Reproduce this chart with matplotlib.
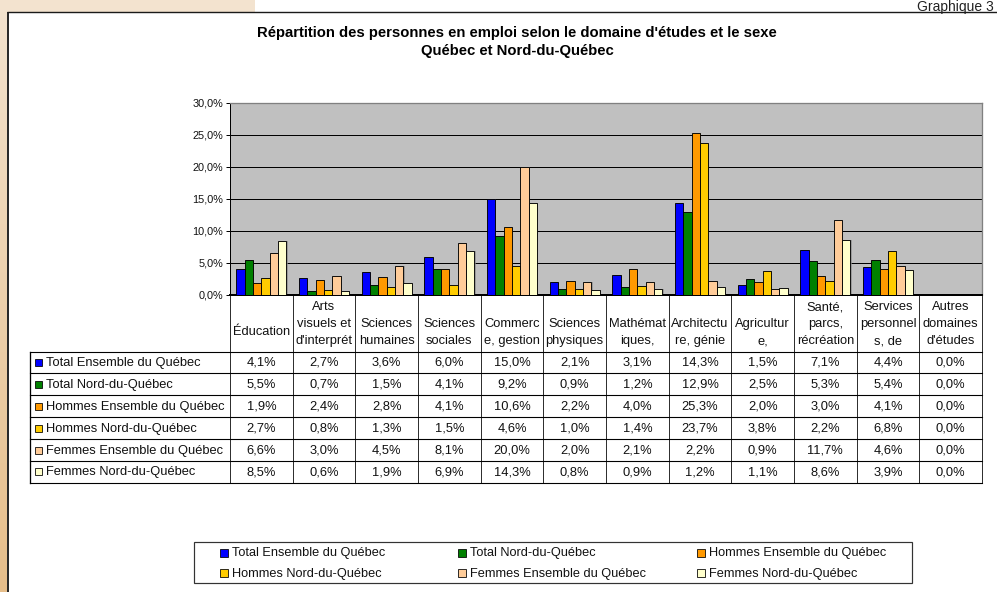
import matplotlib
matplotlib.use('Agg')
import matplotlib.pyplot as plt
import numpy as np
from matplotlib.patches import Rectangle

plt.rcParams['font.family'] = ['Liberation Sans', 'DejaVu Sans']

# ---------------- data ----------------
categories = ["Éducation", "Arts\nvisuels et\nd'interprét", "Sciences\nhumaines",
              "Sciences\nsociales", "Commerc\ne, gestion", "Sciences\nphysiques",
              "Mathémat\niques,", "Architectu\nre, génie", "Agricultur\ne,",
              "Santé,\nparcs,\nrécréation", "Services\npersonnel\ns, de",
              "Autres\ndomaines\nd'études"]
series_names = ["Total Ensemble du Québec", "Total Nord-du-Québec",
                "Hommes Ensemble du Québec", "Hommes Nord-du-Québec",
                "Femmes Ensemble du Québec", "Femmes Nord-du-Québec"]
series_colors = ["#0000FF", "#008000", "#FF9900", "#FFCC00", "#FFCC99", "#FFFFCC"]
total_quebec = [4.1, 2.7, 3.6, 6.0, 15.0, 2.1, 3.1, 14.3, 1.5, 7.1, 4.4, 0.0]
total_nord = [5.5, 0.7, 1.5, 4.1, 9.2, 0.9, 1.2, 12.9, 2.5, 5.3, 5.4, 0.0]
hommes_quebec = [1.9, 2.4, 2.8, 4.1, 10.6, 2.2, 4.0, 25.3, 2.0, 3.0, 4.1, 0.0]
hommes_nord = [2.7, 0.8, 1.3, 1.5, 4.6, 1.0, 1.4, 23.7, 3.8, 2.2, 6.8, 0.0]
femmes_quebec = [6.6, 3.0, 4.5, 8.1, 20.0, 2.0, 2.1, 2.2, 0.9, 11.7, 4.6, 0.0]
femmes_nord = [8.5, 0.6, 1.9, 6.9, 14.3, 0.8, 0.9, 1.2, 1.1, 8.6, 3.9, 0.0]
series_values = [total_quebec, total_nord, hommes_quebec, hommes_nord,
                 femmes_quebec, femmes_nord]
yticks = [0, 5, 10, 15, 20, 25, 30]
title = ("Répartition des personnes en emploi selon le domaine d'études et le sexe\n"
         "Québec et Nord-du-Québec")
corner_label = "Graphique 3"


def pct(v):
    return f"{v:.1f}%".replace('.', ',')


# ---------------- layout (pixels) ----------------
W, H = 997, 592
PX = 0.72  # points per pixel at dpi 100
plot_l, plot_r, plot_t, plot_b = 230, 982, 103, 295
n_cat = len(categories)
col_w = (plot_r - plot_l) / n_cat
table_l = 30
header_bot = 351.5
row_h = 21.9

fig = plt.figure(figsize=(W / 100, H / 100), dpi=100)
fig.patch.set_facecolor('white')

bg = fig.add_axes([0, 0, 1, 1], zorder=0)
bg.set_xlim(0, W)
bg.set_ylim(H, 0)
bg.axis('off')

# beige decorations
grad = np.linspace(0, 1, 256)[:, None, None]
c_top = np.array([0xF3, 0xE3, 0xCF]) / 255
c_bot = np.array([0xE6, 0xBE, 0x8A]) / 255
img = c_top * (1 - grad) + c_bot * grad
bg.imshow(img, extent=(0, 7.5, H, 0), aspect='auto', origin='upper', zorder=0)
bg.add_patch(Rectangle((0, 0), 255, 12, facecolor='#F3E3CF', edgecolor='none', zorder=0))
bg.set_xlim(0, W)
bg.set_ylim(H, 0)
bg.plot([8, 8], [12, H], color='#2a2a2a', lw=2 * PX, zorder=2, solid_capstyle='butt')
bg.plot([7, W], [12.2, 12.2], color='#1a1a1a', lw=1.4 * PX, zorder=2, solid_capstyle='butt')
bg.text(994, 10.5, corner_label, fontsize=10.0, color='#222222', ha='right', va='baseline')

# title
t1, t2 = title.split('\n')
bg.text(517, 37, t1, fontsize=10.7, fontweight='bold', ha='center', va='baseline')
bg.text(517, 55.5, t2, fontsize=10.7, fontweight='bold', ha='center', va='baseline')

# ---------------- bar chart ----------------
ax = fig.add_axes([plot_l / W, 1 - plot_b / H, (plot_r - plot_l) / W, (plot_b - plot_t) / H],
                  zorder=1)
ax.set_facecolor('#C0C0C0')
n_ser = len(series_values)
group_w = 0.8
bar_w = group_w / n_ser
x0 = np.arange(n_cat)
for j, (vals, col) in enumerate(zip(series_values, series_colors)):
    xs = x0 + (1 - group_w) / 2 + (j + 0.5) * bar_w
    ax.bar(xs + 0.018, vals, width=bar_w, color='#8a8a8a', edgecolor='none', zorder=2,
           alpha=0.7)
    ax.bar(xs, vals, width=bar_w, color=col, edgecolor='black', linewidth=0.9 * PX, zorder=3)
ax.set_xlim(0, n_cat)
ax.set_ylim(yticks[0], yticks[-1])
ax.set_yticks(yticks)
ax.set_yticklabels([pct(v) for v in yticks], fontsize=7.8, color='#111111')
ax.tick_params(axis='y', length=4 * PX, width=1 * PX, pad=3 * PX, direction='out')
ax.set_xticks([])
for v in yticks[1:-1]:
    ax.axhline(v, color='black', lw=1 * PX, zorder=1)
for side in ['top', 'right']:
    ax.spines[side].set_color('#808080')
    ax.spines[side].set_linewidth(1.3 * PX)
ax.spines['left'].set_color('black')
ax.spines['left'].set_linewidth(1 * PX)
ax.spines['bottom'].set_color('black')
ax.spines['bottom'].set_linewidth(2 * PX)

# ---------------- data table ----------------
n_rows = len(series_values)
table_bot = header_bot + n_rows * row_h
lw_t = 1 * PX
for k in range(n_cat + 1):
    xk = plot_l + k * col_w
    bg.plot([xk, xk], [plot_b, table_bot], color='#303030', lw=lw_t, zorder=2,
            solid_capstyle='butt')
bg.plot([table_l, table_l], [header_bot, table_bot], color='black', lw=1.3 * PX, zorder=2)
for r in range(n_rows + 1):
    yr = header_bot + r * row_h
    bg.plot([table_l, plot_r], [yr, yr], color='black', lw=1.1 * PX, zorder=2)

# header labels
for k, cat in enumerate(categories):
    xc = plot_l + (k + 0.5) * col_w
    lines = cat.split('\n')
    n = len(lines)
    for i, ln in enumerate(lines):
        yc = 332 if n == 1 else 341 - 17 * (n - 1 - i)
        bg.text(xc, yc, ln, fontsize=9.3, ha='center', va='center', color='#111111')

# rows
for r, (name, col, vals) in enumerate(zip(series_names, series_colors, series_values)):
    yc = header_bot + (r + 0.5) * row_h
    bg.add_patch(Rectangle((35, yc - 3.5), 7, 7, facecolor=col, edgecolor='black',
                           lw=0.8 * PX, zorder=3))
    bg.text(46, yc + 0.5, name, fontsize=9.3, ha='left', va='center', color='#111111')
    for k, v in enumerate(vals):
        xc = plot_l + (k + 0.5) * col_w
        bg.text(xc, yc + 0.5, pct(v), fontsize=9.3, ha='center', va='center', color='#111111')

# ---------------- legend ----------------
leg_l, leg_r, leg_t, leg_b = 194, 912, 542, 583
bg.add_patch(Rectangle((leg_l, leg_t), leg_r - leg_l, leg_b - leg_t, facecolor='white',
                       edgecolor='#333333', lw=1.2 * PX, zorder=2))
leg_cols_x = [220, 458, 697]
leg_rows_y = [552.5, 573]
for idx, (name, col) in enumerate(zip(series_names, series_colors)):
    rr, cc = divmod(idx, 3)
    xm, ym = leg_cols_x[cc], leg_rows_y[rr]
    bg.add_patch(Rectangle((xm, ym - 4), 8, 8, facecolor=col, edgecolor='black',
                           lw=0.8 * PX, zorder=3))
    bg.text(xm + 12, ym + 0.5, name, fontsize=9.2, ha='left', va='center', color='#111111')

fig.savefig('out.png', dpi=100, facecolor='white')
